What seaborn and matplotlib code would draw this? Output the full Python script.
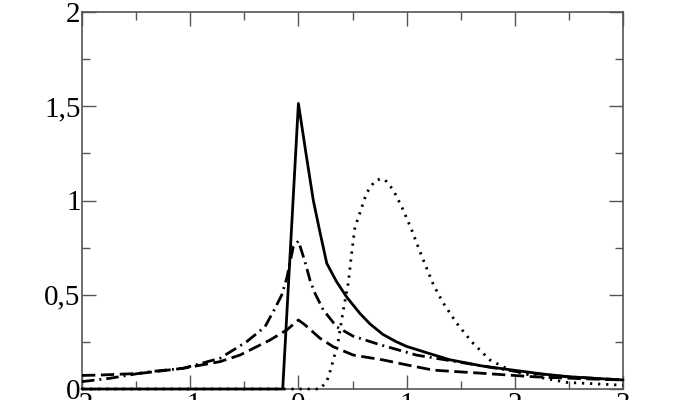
import numpy as np
import pandas as pd
import seaborn as sns
import matplotlib.pyplot as plt
from matplotlib.ticker import MultipleLocator

# solid curve
solid_x = [-2.0, -0.145, 0.0, 0.07, 0.138, 0.2, 0.262, 0.35, 0.446, 0.57, 0.662,
           0.78, 0.9, 1.0, 1.2, 1.4, 1.7, 1.986, 2.25, 2.48, 2.75, 3.0]
solid_y = [0.0, 0.0, 1.515, 1.25, 1.0, 0.83, 0.667, 0.572, 0.488, 0.4, 0.345,
           0.29, 0.252, 0.226, 0.19, 0.155, 0.122, 0.1, 0.08, 0.066, 0.056, 0.048]

# dash-dot curve
dashdot_x = [-2.0, -1.74, -1.4, -1.064, -0.725, -0.478, -0.309, -0.216, -0.154, -0.108,
             -0.047, 0.0, 0.061, 0.107, 0.153, 0.23, 0.354, 0.507, 0.754, 1.09,
             1.555, 2.02, 2.48, 3.0]
dashdot_y = [0.039, 0.057, 0.09, 0.11, 0.163, 0.251, 0.33, 0.428, 0.499, 0.587,
             0.755, 0.785, 0.675, 0.578, 0.508, 0.419, 0.33, 0.28, 0.235, 0.18,
             0.136, 0.092, 0.065, 0.048]

# dashed curve
dashed_x = [-2.0, -1.83, -1.46, -1.064, -0.725, -0.54, -0.262, -0.108, 0.0, 0.061,
            0.2, 0.323, 0.507, 0.785, 1.0, 1.247, 1.71, 2.17, 2.6, 3.0]
dashed_y = [0.072, 0.074, 0.083, 0.11, 0.145, 0.18, 0.26, 0.313, 0.366, 0.34,
            0.269, 0.224, 0.18, 0.154, 0.128, 0.1, 0.083, 0.065, 0.055, 0.048]

# dotted curve
dotted_x = [-2.0, 0.2, 0.262, 0.292, 0.323, 0.37, 0.415, 0.461, 0.492, 0.523, 0.56,
            0.63, 0.708, 0.76, 0.8, 0.877, 0.923, 0.955, 1.047, 1.124, 1.2, 1.25,
            1.34, 1.463, 1.6, 1.77, 1.955, 2.2, 2.48, 3.0]
dotted_y = [0.0, 0.0, 0.04, 0.092, 0.154, 0.26, 0.419, 0.561, 0.72, 0.86, 0.92,
            1.04, 1.105, 1.115, 1.11, 1.056, 1.003, 0.967, 0.844, 0.728, 0.62, 0.55,
            0.455, 0.349, 0.251, 0.154, 0.1, 0.065, 0.035, 0.02]

x_ticks = [-2, -1, 0, 1, 2, 3]
x_labels = ['-2', '-1', '0', '1', '2', '3']
y_ticks = [0, 0.5, 1, 1.5, 2]
y_labels = ['0', '0,5', '1', '1,5', '2']

sns.set_style("ticks")
plt.rcParams['font.family'] = ['Liberation Serif', 'DejaVu Serif']

fig = plt.figure(figsize=(7, 4), dpi=100)
ax_ = fig.add_axes([82 / 700, 11 / 400, 541 / 700, 377 / 400])

curves = [
    (solid_x, solid_y, '-'),
    (dashdot_x, dashdot_y, (0, (4.5, 1.8, 0.7, 1.8))),
    (dashed_x, dashed_y, (0, (4.8, 2.0))),
    (dotted_x, dotted_y, (0, (0.8, 2.1))),
]

for xs, ys, ls in curves:
    df = pd.DataFrame({'x': xs, 'y': ys})
    sns.lineplot(data=df, x='x', y='y', ax=ax_, color='black',
                 linewidth=2.0, linestyle=ls, sort=False, estimator=None,
                 clip_on=False, zorder=3)

ax_.set_xlim(-2, 3)
ax_.set_ylim(0, 2)
ax_.set_xticks(x_ticks)
ax_.set_xticklabels(x_labels)
ax_.set_yticks(y_ticks)
ax_.set_yticklabels(y_labels)
ax_.xaxis.set_minor_locator(MultipleLocator(0.5))
ax_.yaxis.set_minor_locator(MultipleLocator(0.25))
ax_.set_xlabel('')
ax_.set_ylabel('')

for side in ['top', 'right', 'bottom', 'left']:
    ax_.spines[side].set_visible(True)
    ax_.spines[side].set_color('#555555')
    ax_.spines[side].set_linewidth(1.2)

ax_.tick_params(which='both', direction='in', top=True, right=True,
                color='#555555', width=1.0, labelsize=21, labelcolor='black')
ax_.tick_params(which='major', length=10)
ax_.tick_params(which='minor', length=6)
ax_.tick_params(axis='x', pad=2)
ax_.tick_params(axis='y', pad=1)

plt.savefig('out.png', dpi=100)
